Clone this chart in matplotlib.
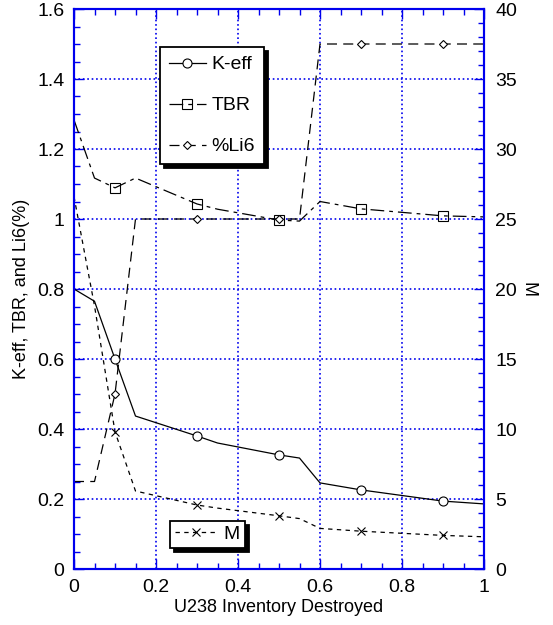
import numpy as np
import matplotlib
matplotlib.use("Agg")
import matplotlib.pyplot as plt
from matplotlib.ticker import MultipleLocator

plt.rcParams['font.family'] = ['Liberation Sans', 'DejaVu Sans']

# data
x = [0, 0.05, 0.1, 0.15, 0.3, 0.35, 0.5, 0.55, 0.6, 0.7, 0.9, 1.0]
keff = [0.80, 0.765, 0.60, 0.437, 0.38, 0.36, 0.326, 0.317, 0.246, 0.226, 0.194, 0.186]
tbr = [1.283, 1.117, 1.089, 1.117, 1.043, 1.028, 0.997, 0.994, 1.05, 1.029, 1.009, 1.006]
li6 = [0.25, 0.25, 0.5, 1.0, 1.0, 1.0, 1.0, 1.0, 1.5, 1.5, 1.5, 1.5]
m_val = [26.6, 18.8, 9.8, 5.57, 4.57, 4.35, 3.8, 3.6, 2.9, 2.7, 2.4, 2.3]
marker_idx = [2, 4, 6, 9, 10]

blue = '#0000ee'

fig = plt.figure(figsize=(5.53, 6.25), dpi=100)
ax1 = fig.add_axes([74 / 553, 56 / 625, 410 / 553, 560 / 625])
ax2 = ax1.twinx()

lw = 0.9
l1, = ax1.plot(x, keff, color='k', lw=lw, ls='-', marker='o', ms=6.5, mfc='white',
               mec='k', mew=0.8, markevery=marker_idx, label='K-eff')
l2, = ax1.plot(x, tbr, color='k', lw=lw, dashes=(11, 4, 3, 4), marker='s', ms=6.5,
               mfc='none', mec='k', mew=0.8, markevery=marker_idx, label='TBR')
l3, = ax1.plot(x, li6, color='k', lw=lw, dashes=(8, 5), marker='D', ms=4,
               mfc='white', mec='k', mew=0.8, markevery=marker_idx, label='%Li6')
l4, = ax2.plot(x, m_val, color='k', lw=lw, dashes=(3.5, 3.5), marker='x', ms=6,
               mec='k', mew=0.8, markevery=marker_idx, label='M')

ax1.set_xlim(0, 1)
ax1.set_ylim(0, 1.6)
ax2.set_ylim(0, 40)

ax1.xaxis.set_major_locator(MultipleLocator(0.2))
ax1.xaxis.set_minor_locator(MultipleLocator(0.05))
ax1.yaxis.set_major_locator(MultipleLocator(0.2))
ax1.yaxis.set_minor_locator(MultipleLocator(0.05))
ax2.yaxis.set_major_locator(MultipleLocator(5))
ax2.yaxis.set_minor_locator(MultipleLocator(1))

ax1.set_xticks([0, 0.2, 0.4, 0.6, 0.8, 1.0])
ax1.set_xticklabels(['0', '0.2', '0.4', '0.6', '0.8', '1'])
ax1.set_yticks([0, 0.2, 0.4, 0.6, 0.8, 1.0, 1.2, 1.4, 1.6])
ax1.set_yticklabels(['0', '0.2', '0.4', '0.6', '0.8', '1', '1.2', '1.4', '1.6'])

ax1.grid(True, which='major', color=blue, ls=':', lw=1.2)

for ax in (ax1, ax2):
    for sp in ax.spines.values():
        sp.set_color(blue)
        sp.set_linewidth(1.5)

ax1.tick_params(which='both', direction='in', color=blue, top=True, right=False,
                labelsize=14, labelcolor='black', pad=7)
ax1.tick_params(which='major', length=7, width=1)
ax1.tick_params(which='minor', length=4, width=1)
ax2.tick_params(which='both', direction='in', color=blue, labelsize=14,
                labelcolor='black', pad=8)
ax2.tick_params(which='major', length=7, width=1)
ax2.tick_params(which='minor', length=4, width=1)

ax1.set_xlabel('U238 Inventory Destroyed', fontsize=13, labelpad=2)
ax1.set_ylabel('K-eff, TBR, and Li6(%)', fontsize=13, labelpad=5)
ax2.set_ylabel('M', fontsize=13, rotation=-90, va='bottom', labelpad=2)

shadow = {'ox': 3, 'oy': -3, 'color': 'black', 'alpha': 1}
leg1 = ax2.legend(handles=[l1, l2, l3], loc='upper left', bbox_to_anchor=(0.21, 0.932),
                  borderaxespad=0, fancybox=False, shadow=shadow, fontsize=14,
                  handlelength=1.9, handletextpad=0.3, labelspacing=1.2,
                  borderpad=0.45, framealpha=1, edgecolor='black')
leg1.get_frame().set_linewidth(1.3)
ax2.add_artist(leg1)
leg2 = ax2.legend(handles=[l4], loc='lower left', bbox_to_anchor=(0.234, 0.0375),
                  borderaxespad=0, fancybox=False, shadow=shadow, fontsize=14,
                  handlelength=2.2, handletextpad=0.3, borderpad=0.25,
                  framealpha=1, edgecolor='black')
leg2.get_frame().set_linewidth(1.3)

fig.savefig('out.png', dpi=100)
